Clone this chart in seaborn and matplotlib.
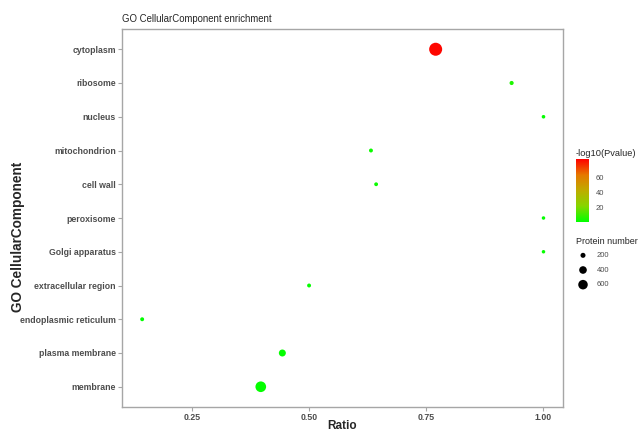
import numpy as np
import pandas as pd
import matplotlib
matplotlib.use('Agg')
import matplotlib.pyplot as plt
import seaborn as sns
from matplotlib.colors import LinearSegmentedColormap, Normalize
from matplotlib.cm import ScalarMappable

# GO terms, top to bottom
terms = ['cytoplasm', 'ribosome', 'nucleus', 'mitochondrion', 'cell wall',
         'peroxisome', 'Golgi apparatus', 'extracellular region',
         'endoplasmic reticulum', 'plasma membrane', 'membrane']
ratio = [0.770, 0.932, 1.000, 0.632, 0.643, 1.000, 1.000, 0.500, 0.144, 0.443, 0.397]
protein_number = [1080, 150, 125, 140, 135, 120, 120, 140, 140, 345, 740]
neg_log_p = [83, 6, 2, 3, 3, 2, 2, 2, 1.5, 2, 2]

size_legend = [200, 400, 600]
cbar_ticks = [20, 40, 60]

df = pd.DataFrame({'term': terms, 'Ratio': ratio,
                   'count': protein_number, 'logp': neg_log_p})

# ggplot-like green -> red gradient (approx. Lab interpolation)
cmap = LinearSegmentedColormap.from_list(
    'gr', ['#00FF00', '#86D600', '#BEAC00', '#E67800', '#FF0000'])
norm = Normalize(vmin=1.3, vmax=84)

sns.set_style('white')
plt.rcParams['font.family'] = ['Liberation Sans', 'DejaVu Sans']

fig = plt.figure(figsize=(6.41, 4.34), dpi=100)
ax = fig.add_axes([122 / 641, 1 - 407 / 434, 441 / 641, 378 / 434])

size_norm = (100, 1100)
size_range = (4.6, 89.5)
sns.scatterplot(data=df, x='Ratio', y='term', hue='logp', size='count',
                palette=cmap, hue_norm=norm, sizes=size_range,
                size_norm=size_norm, linewidth=0, legend=False, ax=ax)

ax.set_xlim(0.101, 1.0416)
ax.set_ylim(len(terms) - 0.4, -0.6)
ax.set_xticks([0.25, 0.50, 0.75, 1.00])
ax.set_xticklabels(['0.25', '0.50', '0.75', '1.00'])
for s in ax.spines.values():
    s.set_color('#A6A6A6')
    s.set_linewidth(1.0)
ax.tick_params(axis='both', bottom=True, left=True, length=3, width=0.8,
               color='#A6A6A6', labelcolor='#4D4D4D', pad=1.5)
ax.tick_params(axis='y', labelsize=6.3)
ax.tick_params(axis='x', labelsize=6.3)
for lab in ax.get_xticklabels() + ax.get_yticklabels():
    lab.set_fontweight('bold')

ax.set_xlabel('Ratio', fontsize=8.5, fontweight='bold')
ax.xaxis.set_label_coords(0.5, -(420 - 407) / 378)
ax.set_ylabel('GO CellularComponent', fontsize=9.8, fontweight='bold')
ax.yaxis.set_label_coords(-97 / 441, (407 - 237) / 378)
ax.set_title('GO CellularComponent enrichment', fontsize=6.9, loc='left', pad=5)

# colour bar legend
fig.text(576 / 641, 1 - 153 / 434, '-log10(Pvalue)', fontsize=6.7,
         va='center', ha='left')
cax = fig.add_axes([576 / 641, 1 - 222 / 434, 13 / 641, 63 / 434])
cb = fig.colorbar(ScalarMappable(norm=norm, cmap=cmap), cax=cax, ticks=cbar_ticks)
cb.outline.set_visible(False)
cax.tick_params(length=2, width=0.6, color='white', labelsize=5.5,
                labelcolor='#4D4D4D', pad=5, direction='in')

# size legend
fig.text(576 / 641, 1 - 242 / 434, 'Protein number', fontsize=6.5,
         va='center', ha='left')
lax = fig.add_axes([572 / 641, 1 - 292 / 434, 50 / 641, 44 / 434])
lax.set_axis_off()
lax.set_xlim(0, 1)
lax.set_ylim(len(size_legend) - 0.5, -0.5)
leg_df = pd.DataFrame({'x': [0.22] * len(size_legend),
                       'y': list(range(len(size_legend))),
                       'count': size_legend})
sns.scatterplot(data=leg_df, x='x', y='y', size='count', sizes=size_range,
                size_norm=size_norm, color='black', linewidth=0,
                legend=False, ax=lax)
for i, v in enumerate(size_legend):
    lax.text(0.5, i, str(v), fontsize=5.5, color='#4D4D4D', va='center')

fig.savefig('out.png', dpi=100)
